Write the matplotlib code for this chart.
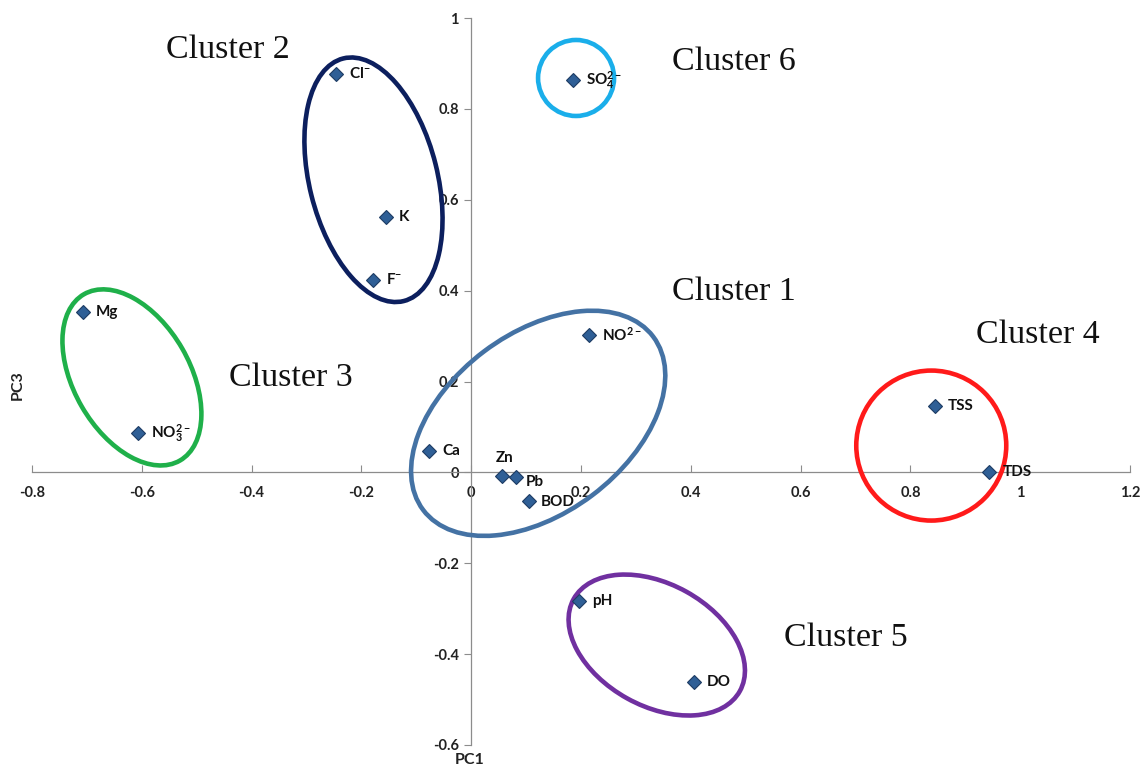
import matplotlib
matplotlib.use("Agg")
import matplotlib.pyplot as plt
from matplotlib.patches import Ellipse
from matplotlib.transforms import ScaledTranslation

plt.rcParams['mathtext.fontset'] = 'custom'
plt.rcParams['mathtext.rm'] = 'Lato:bold'
plt.rcParams['mathtext.it'] = 'Lato:bold'
plt.rcParams['mathtext.bf'] = 'Lato:bold'

# ---- data ----
labels = [r'Cl$^{-}$', 'K', r'F$^{-}$', 'Mg', r'NO$_3^{2-}$', r'SO$_4^{2-}$',
          r'NO$^{2-}$', 'Ca', 'Zn', 'Pb', 'BOD', 'TSS', 'TDS', 'pH', 'DO']
pc1 = [-0.247, -0.156, -0.178, -0.707, -0.607, 0.185,
       0.215, -0.076, 0.056, 0.082, 0.105, 0.844, 0.944, 0.196, 0.405]
pc3 = [0.877, 0.563, 0.424, 0.352, 0.086, 0.864,
       0.303, 0.048, -0.007, -0.011, -0.064, 0.145, 0.000, -0.284, -0.462]

# label offsets (pixels) and alignment
lab_off = [(13, 0), (13, 0), (13, 0), (13, 0), (13, 0), (13, 0),
           (13, 0), (13, 0), (3, 18), (10, -5), (12, -1), (13, 0), (13, 0), (13, 0), (13, 0)]
lab_ha = ['left'] * 8 + ['center'] + ['left'] * 6

cluster_names = ['Cluster 1', 'Cluster 2', 'Cluster 3', 'Cluster 4', 'Cluster 5', 'Cluster 6']
cluster_text_x = [0.365, -0.556, -0.442, 0.920, 0.569, 0.365]
cluster_text_y = [0.398, 0.930, 0.209, 0.303, -0.363, 0.903]
cluster_cx = [0.122, -0.178, -0.618, 0.838, 0.338, 0.191]
cluster_cy = [0.108, 0.644, 0.209, 0.059, -0.380, 0.868]
# ellipse size in pixels (width, height) and rotation (deg)
cluster_w = [288, 128, 116, 150, 190, 76]
cluster_h = [180, 250, 192, 150, 122, 76]
cluster_ang = [37, 14, 30, 0, -29, 0]
cluster_col = ['#4472a4', '#0c1f5e', '#1fb04a', '#ff1a1a', '#7030a0', '#1aaeea']

xticks = [-0.8, -0.6, -0.4, -0.2, 0, 0.2, 0.4, 0.6, 0.8, 1, 1.2]
xtick_labels = ['-0.8', '-0.6', '-0.4', '-0.2', '0', '0.2', '0.4', '0.6', '0.8', '1', '1.2']
yticks = [-0.6, -0.4, -0.2, 0, 0.2, 0.4, 0.6, 0.8, 1]
ytick_labels = ['-0.6', '-0.4', '-0.2', '0', '0.2', '0.4', '0.6', '0.8', '1']

# ---- figure ----
fig = plt.figure(figsize=(11.42, 7.71), dpi=100)
ax = fig.add_axes([32 / 1142, 26 / 771, 1098 / 1142, 727 / 771])
ax.set_xlim(-0.8, 1.2)
ax.set_ylim(-0.6, 1.0)

for s in ['top', 'right']:
    ax.spines[s].set_visible(False)
ax.spines['left'].set_position(('data', 0))
ax.spines['bottom'].set_position(('data', 0))
for s in ['left', 'bottom']:
    ax.spines[s].set_color('#8c8c8c')
    ax.spines[s].set_linewidth(0.9)

ax.set_xticks(xticks)
ax.set_xticklabels(xtick_labels)
ax.set_yticks(yticks)
ax.set_yticklabels(ytick_labels)
ax.tick_params(axis='x', direction='in', length=5, color='#8c8c8c', pad=10)
ax.tick_params(axis='y', direction='out', length=5, color='#8c8c8c', pad=4)
for t in ax.get_xticklabels() + ax.get_yticklabels():
    t.set_fontfamily('Lato')
    t.set_fontweight('bold')
    t.set_fontsize(10.5)
    t.set_color('#222222')

ax.plot(pc1, pc3, linestyle='none', marker='D', markersize=7,
        markerfacecolor='#2f5f96', markeredgecolor='#1d3c63', markeredgewidth=0.8, zorder=5)

for lab, x, y, off, ha in zip(labels, pc1, pc3, lab_off, lab_ha):
    ax.annotate(lab, (x, y), xytext=(off[0] * 0.72, off[1] * 0.72), textcoords='offset points',
                ha=ha, va='center', fontsize=11, fontfamily='Lato', fontweight='bold',
                color='#111111', zorder=6)

for name, tx, ty, cx, cy, w, h, a, c in zip(cluster_names, cluster_text_x, cluster_text_y,
                                            cluster_cx, cluster_cy, cluster_w, cluster_h,
                                            cluster_ang, cluster_col):
    tr = fig.dpi_scale_trans + ScaledTranslation(cx, cy, ax.transData)
    e = Ellipse((0, 0), w / 100, h / 100, angle=a, transform=tr, fill=False,
                edgecolor=c, linewidth=3.3, clip_on=False, zorder=4)
    ax.add_patch(e)
    ax.text(tx, ty, name, ha='left', va='center', fontsize=24.5,
            fontfamily='Liberation Serif', color='#111111')

fig.text(470 / 1142, 1 - 760 / 771, 'PC1', ha='center', va='center',
         fontsize=11.5, fontfamily='Lato', fontweight='bold', color='#222222')
fig.text(18 / 1142, 1 - 385 / 771, 'PC3', ha='center', va='center', rotation=90,
         fontsize=11.5, fontfamily='Lato', fontweight='bold', color='#222222')

fig.savefig('out.png', dpi=100)
